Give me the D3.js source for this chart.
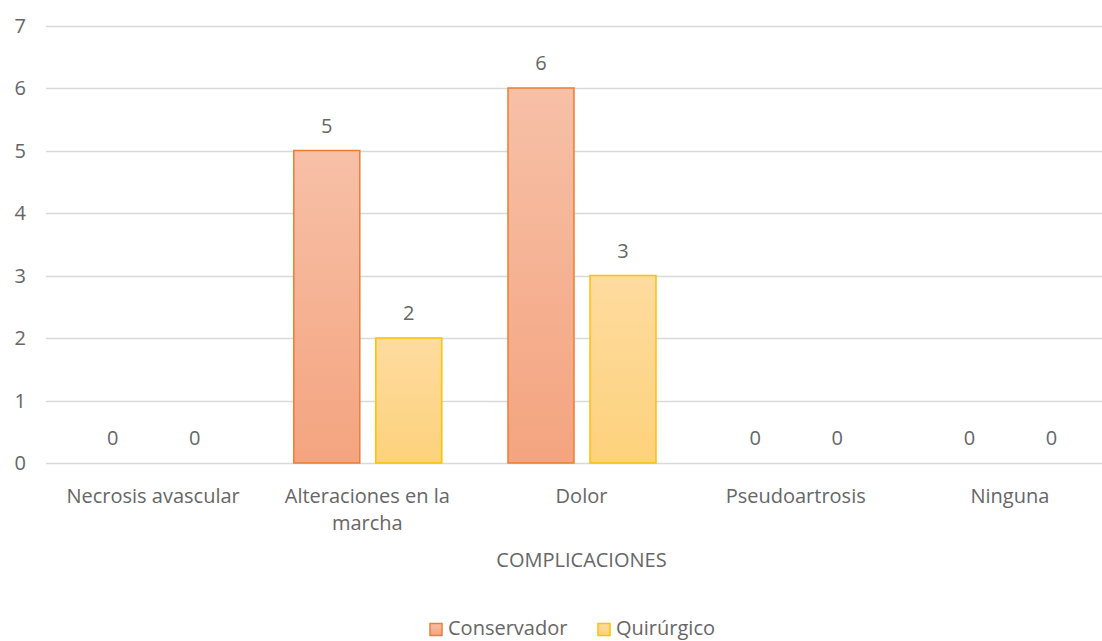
<!DOCTYPE html>
<html>
<head>
<meta charset="utf-8">
<script src="https://cdn.jsdelivr.net/npm/d3@7"></script>
<style>
  html, body { margin: 0; padding: 0; background: #fff; }
  svg { display: block; font-family: "Open Sans", sans-serif; }
  text { fill: #666666; }
</style>
</head>
<body>
<svg id="chart" width="1102" height="641"></svg>
<script>
// Complications by treatment type
const categories = ["Necrosis avascular", "Alteraciones en la marcha", "Dolor", "Pseudoartrosis", "Ninguna"];
const categoryLines = [["Necrosis avascular"], ["Alteraciones en la", "marcha"], ["Dolor"], ["Pseudoartrosis"], ["Ninguna"]];
const seriesNames = ["Conservador", "Quirúrgico"];
const conservador = [0, 5, 6, 0, 0];
const quirurgico = [0, 2, 3, 0, 0];
const yTicks = [0, 1, 2, 3, 4, 5, 6, 7];
const axisTitle = "COMPLICACIONES";

const FS = 20;
const svg = d3.select("#chart");
const margin = { left: 46, right: 1117, top: 25.5, bottom: 463 };

const x = d3.scaleBand().domain(categories).range([margin.left, margin.right]);
const y = d3.scaleLinear().domain([0, 7]).range([margin.bottom, margin.top]);

const barW = 66, barGap = 16;
const groupW = barW * 2 + barGap;

const styles = {
  "Conservador": { top: "#F7C0A7", bottom: "#F4A47F", stroke: "#ED7D31" },
  "Quirúrgico": { top: "#FEDB9F", bottom: "#FDD27C", stroke: "#FFC000" }
};

const defs = svg.append("defs");
seriesNames.forEach((s, i) => {
  const g = defs.append("linearGradient").attr("id", "grad" + i)
    .attr("x1", 0).attr("y1", 0).attr("x2", 0).attr("y2", 1);
  g.append("stop").attr("offset", "0%").attr("stop-color", styles[s].top);
  g.append("stop").attr("offset", "100%").attr("stop-color", styles[s].bottom);
});

// Gridlines
svg.append("g").selectAll("line").data(yTicks).join("line")
  .attr("x1", margin.left).attr("x2", 1102)
  .attr("y1", d => Math.round(y(d)) + 0.5).attr("y2", d => Math.round(y(d)) + 0.5)
  .attr("stroke", "#D9D9D9").attr("stroke-width", 1.3);

// Y tick labels
svg.append("g").selectAll("text").data(yTicks).join("text")
  .attr("x", 26).attr("y", d => y(d))
  .attr("dy", "0.36em").attr("text-anchor", "end")
  .attr("font-size", FS).text(d => d);

const data = categories.map((c, i) => ({ cat: c, vals: [
  { s: seriesNames[0], v: conservador[i], idx: 0 },
  { s: seriesNames[1], v: quirurgico[i], idx: 1 }
]}));

const groups = svg.append("g").selectAll("g").data(data).join("g")
  .attr("transform", d => `translate(${x(d.cat) + (x.bandwidth() - groupW) / 2},0)`);

const barX = (idx) => idx * (barW + barGap);

groups.selectAll("rect").data(d => d.vals.filter(v => v.v > 0)).join("rect")
  .attr("x", d => barX(d.idx) + 0.5)
  .attr("y", d => y(d.v))
  .attr("width", barW)
  .attr("height", d => y(0) - y(d.v))
  .attr("fill", d => `url(#grad${d.idx})`)
  .attr("stroke", d => styles[d.s].stroke)
  .attr("stroke-width", 1.5);

// Value labels
groups.selectAll("text.val").data(d => d.vals).join("text").attr("class", "val")
  .attr("x", d => barX(d.idx) + barW / 2 + 0.5)
  .attr("y", d => y(d.v) - 18)
  .attr("text-anchor", "middle")
  .attr("font-size", FS)
  .text(d => d.v);

// Category labels
const catG = svg.append("g");
categories.forEach((c, i) => {
  const cx = x(c) + x.bandwidth() / 2;
  const t = catG.append("text")
    .attr("x", cx).attr("y", 503)
    .attr("text-anchor", "middle")
    .attr("font-size", FS);
  categoryLines[i].forEach((line, j) => {
    t.append("tspan").attr("x", cx).attr("dy", j === 0 ? 0 : 27).text(line);
  });
});

// Axis title
svg.append("text")
  .attr("x", (margin.left + margin.right) / 2)
  .attr("y", 567)
  .attr("text-anchor", "middle")
  .attr("font-size", FS)
  .text(axisTitle);

// Legend
const legend = svg.append("g");
const legendX = [430, 598];
seriesNames.forEach((s, i) => {
  legend.append("rect")
    .attr("x", legendX[i]).attr("y", 623.5)
    .attr("width", 12).attr("height", 12)
    .attr("fill", `url(#grad${i})`)
    .attr("stroke", styles[s].stroke).attr("stroke-width", 1.5);
  legend.append("text")
    .attr("x", legendX[i] + 18).attr("y", 635)
    .attr("font-size", FS)
    .text(s);
});
</script>
</body>
</html>
